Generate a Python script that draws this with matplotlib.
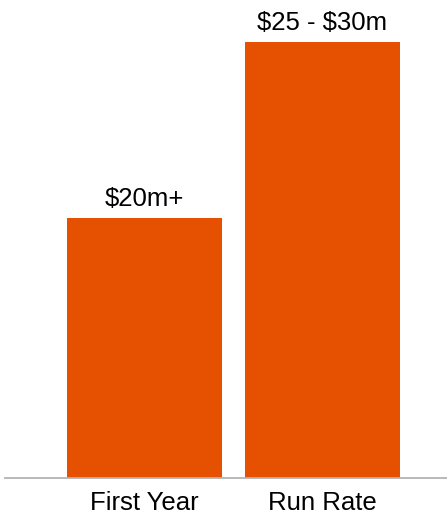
import matplotlib
matplotlib.use('Agg')
import matplotlib.pyplot as plt

categories = ['First Year', 'Run Rate']
values = [20, 33.5]
labels = [r'\$20m+', r'\$25 - \$30m']

plt.rcParams['font.family'] = ['Liberation Sans', 'DejaVu Sans']

fig = plt.figure(figsize=(4.47, 5.15), dpi=100)
ax = fig.add_axes([0.011, 0.0718, 0.989, 0.9282])

x = list(range(len(categories)))
bars = ax.bar(x, values, width=0.873, color='#E55100')
for b, lab in zip(bars, labels):
    ax.text(b.get_x() + b.get_width() / 2, b.get_height() + 0.55, lab,
            ha='center', va='bottom', fontsize=18.5, color='black')

ax.set_xlim(-0.786, 1.704)
ax.set_ylim(0, 33.5 * 478 / 436)
ax.set_xticks(x)
ax.set_xticklabels(categories, fontsize=18.5)
ax.tick_params(axis='x', length=0, pad=9)
ax.set_yticks([])
for s in ['top', 'right', 'left']:
    ax.spines[s].set_visible(False)
ax.spines['bottom'].set_color('#b3b3b3')
ax.spines['bottom'].set_linewidth(1.3)

fig.savefig('out.png', dpi=100)
